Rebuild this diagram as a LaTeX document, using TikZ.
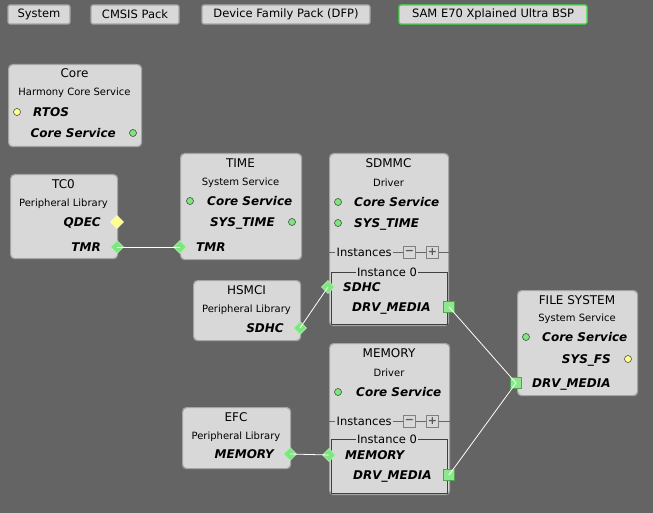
\documentclass[tikz,border=0pt]{standalone}
\usepackage{fontspec}
\setmainfont{DejaVu Sans}
\usetikzlibrary{shapes.geometric}

\definecolor{bggray}{HTML}{646464}
\definecolor{boxgray}{HTML}{D8D8D8}
\definecolor{edgegray}{HTML}{A4A4A4}
\definecolor{portgreen}{HTML}{7EE67E}
\definecolor{portyellow}{HTML}{FFFF8C}
\definecolor{selgreen}{HTML}{3CE03C}

\tikzset{
  compbox/.style={draw=edgegray, fill=boxgray, line width=1.2pt, rounded corners=4pt, anchor=north west, inner sep=0pt},
  topbtn/.style={draw=edgegray, fill=boxgray, line width=1.2pt, rounded corners=2pt, minimum height=19pt, inner sep=0pt, font=\fontsize{11.5}{13}\selectfont},
  ctitle/.style={font=\fontsize{12}{14}\selectfont, text height=8.5pt, text depth=0pt, inner sep=0pt},
  csub/.style={font=\fontsize{10}{12}\selectfont, text height=7.3pt, text depth=0pt, inner sep=0pt},
  plabel/.style={font=\fontsize{12}{14}\selectfont\bfseries\itshape, text height=8.7pt, text depth=0pt, inner sep=0pt},
  dot/.style={circle, draw=black!80, line width=0.5pt, minimum size=7pt, inner sep=0pt},
  gdot/.style={dot, fill=portgreen},
  ydot/.style={dot, fill=portyellow},
  gdia/.style={diamond, draw=portgreen!60!white, fill=portgreen, line width=0.6pt, minimum size=13pt, inner sep=0pt},
  ydia/.style={gdia, draw=portyellow!60!white, fill=portyellow},
  gsq/.style={rectangle, draw=portgreen!70!black, fill=portgreen!90!white, line width=0.5pt, minimum size=11pt, inner sep=0pt},
  smallbtn/.style={rectangle, draw=gray, fill=boxgray, line width=0.6pt, minimum size=12pt, inner sep=0pt, font=\bfseries\fontsize{11}{11}\selectfont, text=black!65},
  inst/.style={fill=boxgray, inner sep=1.5pt, font=\fontsize{11.5}{13}\selectfont, text height=8.2pt, text depth=0pt},
  wire/.style={white, line width=0.8pt}
}

\begin{document}
\begin{tikzpicture}[x=1pt,y=-1pt]
\fill[bggray] (0,0) rectangle (653,513);
\useasboundingbox (0,0) rectangle (653,513);

% top bar
\node[topbtn, minimum width=62pt] (sys) at (39,14.5) {System};
\node[topbtn, minimum width=88pt] (cmsis) at (135,14.5) {CMSIS Pack};
\node[topbtn, minimum width=168pt] (dfp) at (286,14.5) {Device Family Pack (DFP)};
\node[topbtn, draw=selgreen, minimum width=188pt] (bsp) at (493,14.5) {SAM E70 Xplained Ultra BSP};

% Core
\node[compbox, minimum width=133pt, minimum height=82pt] (core) at (8,64) {};
\node[ctitle] (coreT) at (74.5,73) {Core};
\node[csub] (coreS) at (74.5,92) {Harmony Core Service};
\node[ydot] (coreRtos) at (17,112) {};
\node[plabel, anchor=west] (coreRtosL) at (33,112) {RTOS};
\node[gdot] (coreCs) at (133,133) {};
\node[plabel, anchor=east] (coreCsL) at (116,133) {Core Service};

% TC0
\node[compbox, minimum width=107pt, minimum height=84pt] (tc) at (10,174) {};
\node[ctitle] (tcT) at (63.5,184) {TC0};
\node[csub] (tcS) at (63.5,203) {Peripheral Library};
\node[plabel, anchor=east] (tcQdecL) at (101,222) {QDEC};
\node[ydia] (tcQdec) at (117,222) {};
\node[plabel, anchor=east] (tcTmrL) at (101,247) {TMR};
\node[gdia] (tcTmr) at (117,247) {};

% TIME
\node[compbox, minimum width=121pt, minimum height=106pt] (time) at (180,153) {};
\node[ctitle] (timeT) at (240.5,163) {TIME};
\node[csub] (timeS) at (240.5,182) {System Service};
\node[gdot] (timeCs) at (190,201) {};
\node[plabel, anchor=west] (timeCsL) at (207,201) {Core Service};
\node[plabel, anchor=east] (timeStL) at (275,222) {SYS\_TIME};
\node[gdot] (timeSt) at (292,222) {};
\node[gdia] (timeTmr) at (180,247) {};
\node[plabel, anchor=west] (timeTmrL) at (196,247) {TMR};

% SDMMC
\node[compbox, minimum width=119pt, minimum height=172pt] (sdmmc) at (329,153) {};
\node[ctitle] (sdmmcT) at (388.5,163) {SDMMC};
\node[csub] (sdmmcS) at (388.5,183) {Driver};
\node[gdot] (sdmmcCs) at (338,202) {};
\node[plabel, anchor=west] (sdmmcCsL) at (354,202) {Core Service};
\node[gdot] (sdmmcSt) at (338,223) {};
\node[plabel, anchor=west] (sdmmcStL) at (354,223) {SYS\_TIME};
\draw[black!60, line width=0.6pt] (sdmmc.west |- 0,252) -- (sdmmc.east |- 0,252);
\node[inst, anchor=west] (sdmmcI) at (335,252) {Instances};
\node[smallbtn] (sdmmcM) at (409.5,252) {−};
\node[smallbtn] (sdmmcP) at (432.5,252) {+};
\draw[black!75, line width=0.8pt] (331,272) rectangle (447,324);
\node[inst] (sdmmcI0) at (387,272) {Instance 0};
\node[gdia] (sdmmcSdhc) at (328,287) {};
\node[plabel, anchor=west] (sdmmcSdhcL) at (343,287) {SDHC};
\node[plabel, anchor=west] (sdmmcDrvL) at (352,307) {DRV\_MEDIA};
\node[gsq] (sdmmcDrv) at (449,307) {};

% HSMCI
\node[compbox, minimum width=107pt, minimum height=60pt] (hsmci) at (193,280) {};
\node[ctitle] (hsmciT) at (246.5,290) {HSMCI};
\node[csub] (hsmciS) at (246.5,309) {Peripheral Library};
\node[plabel, anchor=east] (hsmciSdhcL) at (284,328) {SDHC};
\node[gdia] (hsmciSdhc) at (300,328) {};

% MEMORY
\node[compbox, minimum width=120pt, minimum height=151pt] (mem) at (329,343) {};
\node[ctitle] (memT) at (389,353) {MEMORY};
\node[csub] (memS) at (389,373) {Driver};
\node[gdot] (memCs) at (338,392) {};
\node[plabel, anchor=west] (memCsL) at (356,392) {Core Service};
\draw[black!60, line width=0.6pt] (mem.west |- 0,421) -- (mem.east |- 0,421);
\node[inst, anchor=west] (memI) at (335,421) {Instances};
\node[smallbtn] (memM) at (409.5,421) {−};
\node[smallbtn] (memP) at (432.5,421) {+};
\draw[black!75, line width=0.8pt] (331,439) rectangle (447,493);
\node[inst] (memI0) at (387,439) {Instance 0};
\node[gdia] (memMem) at (329,455) {};
\node[plabel, anchor=west] (memMemL) at (345,455) {MEMORY};
\node[plabel, anchor=west] (memDrvL) at (353,475) {DRV\_MEDIA};
\node[gsq] (memDrv) at (449,475) {};

% EFC
\node[compbox, minimum width=108pt, minimum height=61pt] (efc) at (182,407) {};
\node[ctitle] (efcT) at (236,417) {EFC};
\node[csub] (efcS) at (236,436) {Peripheral Library};
\node[plabel, anchor=east] (efcMemL) at (274,454) {MEMORY};
\node[gdia] (efcMem) at (290,454) {};

% FILE SYSTEM
\node[compbox, minimum width=120pt, minimum height=105pt] (fs) at (517,290) {};
\node[ctitle] (fsT) at (577,300) {FILE SYSTEM};
\node[csub] (fsS) at (577,318) {System Service};
\node[gdot] (fsCs) at (526,337) {};
\node[plabel, anchor=west] (fsCsL) at (542,337) {Core Service};
\node[plabel, anchor=east] (fsSfL) at (611,359) {SYS\_FS};
\node[ydot] (fsSf) at (628,359) {};
\node[gsq] (fsDrv) at (516,383) {};
\node[plabel, anchor=west] (fsDrvL) at (532,383) {DRV\_MEDIA};

% connections
\draw[wire] (tcTmr.center) -- (timeTmr.center);
\draw[wire] (hsmciSdhc.center) -- (sdmmcSdhc.center);
\draw[wire] (efcMem.center) -- (memMem.center);
\draw[wire] (sdmmcDrv.center) -- (fsDrv.center);
\draw[wire] (memDrv.center) -- (fsDrv.center);
\end{tikzpicture}
\end{document}
